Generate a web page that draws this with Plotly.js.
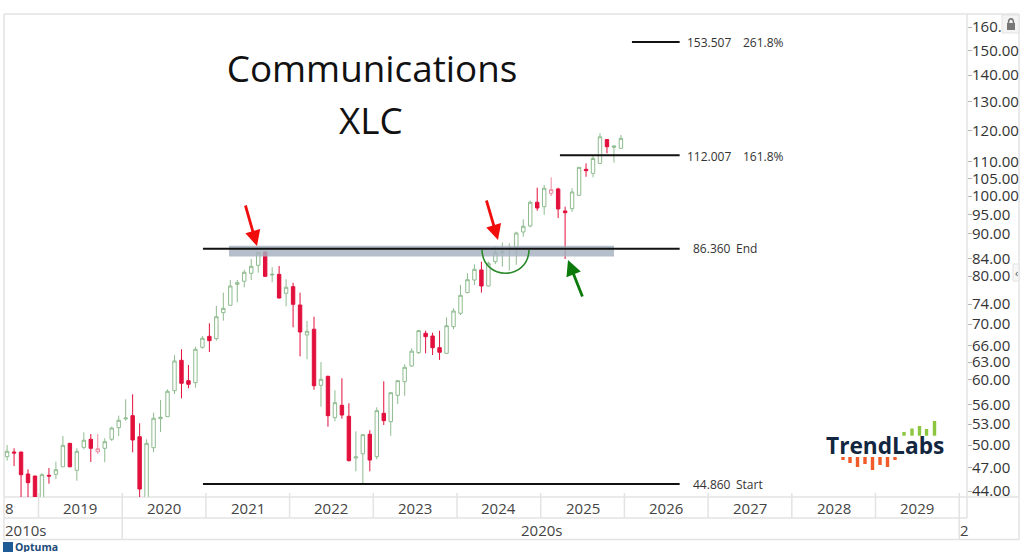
<!DOCTYPE html>
<html><head><meta charset="utf-8">
<script src="https://cdn.plot.ly/plotly-3.0.1.min.js"></script>
<style>html,body{margin:0;padding:0;background:#fff}#c{width:1024px;height:552px}</style>
</head><body><div id="c"></div>
<script>
const months=["2018-08","2018-09","2018-10","2018-11","2018-12",
"2019-01","2019-02","2019-03","2019-04","2019-05","2019-06","2019-07","2019-08","2019-09","2019-10","2019-11","2019-12",
"2020-01","2020-02","2020-03","2020-04","2020-05","2020-06","2020-07","2020-08","2020-09","2020-10","2020-11","2020-12",
"2021-01","2021-02","2021-03","2021-04","2021-05","2021-06","2021-07","2021-08","2021-09","2021-10","2021-11","2021-12",
"2022-01","2022-02","2022-03","2022-04","2022-05","2022-06","2022-07","2022-08","2022-09","2022-10","2022-11","2022-12",
"2023-01","2023-02","2023-03","2023-04","2023-05","2023-06","2023-07","2023-08","2023-09","2023-10","2023-11","2023-12",
"2024-01","2024-02","2024-03","2024-04","2024-05","2024-06","2024-07","2024-08","2024-09","2024-10","2024-11","2024-12",
"2025-01","2025-02","2025-03","2025-04","2025-05","2025-06","2025-07","2025-08","2025-09","2025-10","2025-11","2025-12"];
const open=[48.42,49.05,49.05,46.14,45.88,41.6,45.97,46.10,47.08,50.25,46.62,49.69,50.82,49.09,49.56,50.82,52.49,53.78,54.27,51.18,42.0,49.64,53.82,54.12,58.18,63.31,59.82,59.49,65.64,67.68,67.24,72.28,73.78,78.22,78.88,80.65,82.46,85.58,80.27,80.42,76.29,77.70,73.84,67.93,69.02,59.05,60.55,53.97,55.86,54.18,48.24,48.82,51.53,48.42,54.63,53.37,57.43,59.65,62.31,64.67,68.25,67.74,65.57,64.55,69.52,72.16,76.42,79.16,81.40,77.85,83.30,85.41,86.24,86.60,90.47,91.99,98.27,97.07,100.75,101.98,95.92,96.54,100.2,107.7,106.5,109.5,117.0,114.5,114.2];
const high=[50.01,49.56,49.09,46.74,45.9,46.23,46.91,47.75,51.28,50.29,49.56,51.81,51.57,51.57,50.96,52.63,54.27,56.80,57.60,53.13,50.82,54.72,56.69,58.40,64.20,65.28,62.49,65.75,67.74,70.18,73.69,76.42,79.16,79.16,81.40,83.92,85.65,85.65,82.01,82.30,79.32,78.57,76.42,70.63,71.47,63.01,60.65,58.24,60.22,56.17,51.96,51.57,52.11,55.55,59.72,57.92,59.89,62.61,65.46,68.88,68.75,68.37,68.75,71.35,73.16,78.07,80.65,82.69,83.30,83.30,86.84,87.82,87.66,90.55,93.72,98.71,102.34,103.11,105.34,102.34,97.07,102.17,108.4,109.5,111.77,119.1,117.2,115.1,118.5];
const low=[47.88,47.17,42.9,42.5,40.0,40.9,44.91,45.50,47.08,47.0,45.28,49.42,47.71,48.78,47.67,50.58,51.28,53.52,49.01,40,41,49.01,51.86,54.1,57.64,56.95,58.57,58.67,65.39,64.79,66.87,70.69,73.7,74.40,77.57,79.16,80.80,79.9,78.66,75.2,73.57,69.40,64.02,63.49,58.33,55.64,52.63,53.43,53.82,47.8,46.49,44.86,46.49,48.07,52.88,51.32,56.06,57.37,62.19,64.43,64.55,64.25,63.37,64.5,69.02,71.81,76.29,78.07,76.42,77.8,82.76,82.14,81.27,82.60,89.30,91.66,96.0,94.93,100,94.07,83.92,95.66,100.1,105.5,105.34,109.4,112.6,109.7,114.1];
const close=[49.15,48.92,46.05,45.04,41.7,46.05,45.88,46.69,49.97,47.08,49.15,50.68,49.56,49.50,50.48,52.44,53.58,53.92,50.72,44.25,50.25,53.88,54.03,58.08,63.19,59.39,59.22,65.28,67.31,66.87,71.47,73.16,77.85,78.57,80.88,82.23,85.41,79.97,80.42,75.29,77.57,73.98,68.50,68.64,58.99,60.05,54.27,56.27,54.37,47.88,48.38,51.47,47.97,55.03,53.52,57.85,59.82,62.09,64.94,68.75,67.61,65.57,64.74,69.71,72.62,75.86,79.23,81.55,77.85,82.93,85.41,85.58,86.46,90.22,91.92,98.27,96.72,102.17,101.77,96.46,95.47,101.12,108.3,107.3,111.0,117.9,114.7,114.93,117.4];
const hollowRedMonths=["2019-09","2025-02"];

const fibValues=[153.507,112.007,86.360,44.860];
const fibNotes=["261.8%","161.8%","End","Start"];
const fibStarts=[2026.09,2025.23,2020.965,2020.965];
const fibEnd=2026.66;
const bandRange=[84.5,87.1];
const bandYears=[2021.276,2025.876];

const yTicks=[160,150,140,130,120,110,105,100,95,90,84,80,74,70,66,63,60,56,53,50,47,44];
const yearLabels=[2019,2020,2021,2022,2023,2024,2025,2026,2027,2028,2029];
const yearStarts=[2019,2020,2021,2022,2023,2024,2025,2026,2027,2028,2029,2030];
const decadeStarts=[2020,2030];

const UP='#8fbb8f', DOWN='#e2103c', PINK='#ee8a9e';
const FONT='"Open Sans", sans-serif';
const W=963,H=483,L=4,T=14;
const px=x=>(x-L)/W, py=y=>(T+H-y)/H;
const monthX=m=>{const [y,mo]=m.split('-').map(Number);return y+(mo-0.5)/12;};
const pick=(a,keep)=>a.filter((_,i)=>keep(months[i]));
const isHollow=m=>hollowRedMonths.includes(m);
const isMain=m=>!isHollow(m);

const traces=[
 {type:'candlestick',x:pick(months,isMain).map(monthX),open:pick(open,isMain),high:pick(high,isMain),low:pick(low,isMain),close:pick(close,isMain),
  increasing:{line:{color:UP,width:1},fillcolor:'#ffffff'},decreasing:{line:{color:DOWN,width:1},fillcolor:DOWN},whiskerwidth:0,showlegend:false,hoverinfo:'skip'},
 {type:'candlestick',x:pick(months,isHollow).map(monthX),open:pick(open,isHollow),high:pick(high,isHollow),low:pick(low,isHollow),close:pick(close,isHollow),
  increasing:{line:{color:PINK,width:1},fillcolor:'#ffffff'},decreasing:{line:{color:PINK,width:1},fillcolor:'#ffffff'},whiskerwidth:0,showlegend:false,hoverinfo:'skip'},
 {type:'scatter',mode:'lines',x:[bandYears[0],bandYears[1],bandYears[1],bandYears[0],bandYears[0]],y:[bandRange[0],bandRange[0],bandRange[1],bandRange[1],bandRange[0]],fill:'toself',fillcolor:'rgba(165,177,192,0.82)',line:{width:0},showlegend:false,hoverinfo:'skip'}
];
fibValues.forEach((v,i)=>traces.push({type:'scatter',mode:'lines',x:[fibStarts[i],fibEnd],y:[v,v],line:{color:'#111',width:2},showlegend:false,hoverinfo:'skip'}));

const rule='#e3e3e3';
const shapes=[];
const frame=(x0,y0,x1,y1)=>shapes.push({type:'line',xref:'paper',yref:'paper',x0:px(x0),y0:py(y0),x1:px(x1),y1:py(y1),line:{color:rule,width:1.5},layer:'below'});
frame(4,14,1019,14);frame(4,14,4,540);frame(967,14,967,518);frame(1019,14,1019,540);
frame(4,497,1019,497);frame(4,518,967,518);frame(4,539.5,1019,539.5);
yearStarts.forEach(s=>shapes.push({type:'line',xref:'x',yref:'paper',x0:s,x1:s,y0:py(518),y1:py(493),line:{color:rule,width:1.5}}));
decadeStarts.forEach(s=>shapes.push({type:'line',xref:'x',yref:'paper',x0:s,x1:s,y0:py(540),y1:py(518),line:{color:rule,width:1.5}}));
// green arc
const P=(x,y)=>px(x).toFixed(5)+' '+py(y).toFixed(5);
shapes.push({type:'path',xref:'paper',yref:'paper',path:`M ${P(482,250)} C ${P(483,281)} ${P(528,281)} ${P(529,250)}`,line:{color:'#2c8a2c',width:1.6}});
// lock button and side handle
const box=(x0,y0,x1,y1,fill,lc)=>shapes.push({type:'rect',xref:'paper',yref:'paper',x0:px(x0),x1:px(x1),y0:py(y0),y1:py(y1),fillcolor:fill,line:{color:lc||fill,width:lc?1:0}});
box(1002,15,1019,33,'#f3f3f3','#e3e3e3');
box(1007,23,1015,30,'#777');
shapes.push({type:'path',xref:'paper',yref:'paper',path:`M ${P(1008.5,23)} C ${P(1008.5,17.5)} ${P(1013.5,17.5)} ${P(1013.5,23)}`,line:{color:'#777',width:1.6}});
box(1013,264,1019,281,'#f6f6f6','#e3e3e3');
// logo marks
const gx=[904,912,919.5,926.5,934.5], gt=[432,428.5,426,429,421];
gx.forEach((x,i)=>box(x-1.7,gt[i],x+1.7,435.7,'#8cc63f'));
const ox=[843,850,857.5,865,872.5,880,887.5,895], ob=[460,463,467,464,470,465,467,460];
ox.forEach((x,i)=>box(x-1.7,457,x+1.7,ob[i],'#f15a29'));
// optuma mark
box(3,542,13,552,'#1d5a96');

const tx=(text,x,y,size,color,anchor,extra)=>Object.assign({text,xref:'paper',yref:'paper',x:px(x),y:py(y),showarrow:false,xanchor:anchor||'center',yanchor:'middle',font:{family:FONT,size,color},borderpad:0,borderwidth:0},extra||{});
const fibY=[43,156,249,484];
const anns=[];
fibValues.forEach((v,i)=>{
  anns.push(tx(v.toFixed(3),731,fibY[i],12,'#333','right'));
  anns.push(tx(fibNotes[i],i<2?743:736,fibY[i],12,'#333','left'));
});
anns.push(tx('XLC',371,120,36.8,'#111'));
yearLabels.forEach(y=>anns.push({text:String(y),xref:'x',yref:'paper',x:y+0.5,y:py(508),showarrow:false,yanchor:'middle',font:{family:FONT,size:15,color:'#444'}}));
anns.push(tx('8',5,508,15,'#444','left'));
anns.push(tx('2010s',5,530,15,'#444','left'));
anns.push(tx('2020s',541,530,15,'#444'));
anns.push(tx('2',960,530,15,'#444','left'));
anns.push(tx('TrendLabs',885,445,22.7,'#12263f','center',{font:{family:FONT,size:22.7,color:'#12263f',weight:700}}));
anns.push(tx('Optuma',15,547,10.5,'#1d4a7a','left',{font:{family:FONT,size:10.5,color:'#1d4a7a',weight:700}}));
anns.push(tx('‹',1016,272,11,'#555'));
const arrow=(x,y,tx0,ty0,color)=>({text:'',xref:'paper',yref:'paper',x:px(x),y:py(y),axref:'pixel',ayref:'pixel',ax:tx0-x,ay:ty0-y,showarrow:true,arrowhead:2,arrowsize:1.1,arrowwidth:2.8,arrowcolor:color});
anns.push(arrow(257,246,245,204,'#f20d0d'));
anns.push(arrow(498,240,486,199,'#f20d0d'));
anns.push(arrow(568,260,583,298,'#0b7a0b'));

const layout={
 width:1024,height:552,paper_bgcolor:'#fff',plot_bgcolor:'#fff',showlegend:false,hovermode:false,
 margin:{l:L,r:1024-L-W,t:T,b:552-T-H,pad:0},
 title:{text:'Communications',xref:'paper',yref:'container',x:px(372),xanchor:'center',y:1-69/552,yanchor:'middle',font:{family:FONT,size:36.8,color:'#111'},pad:{t:0,b:0,l:0,r:0}},
 xaxis:{type:'linear',range:[2018.588,2030.093],showgrid:false,zeroline:false,showticklabels:false,ticks:'',showline:false,rangeslider:{visible:false},fixedrange:true},
 yaxis:{type:'log',range:[Math.log10(43.28),Math.log10(165.93)],side:'right',showgrid:false,zeroline:false,showline:false,tickmode:'array',tickvals:yTicks,ticktext:yTicks.map(v=>v.toFixed(2)),ticks:'outside',ticklen:4,tickwidth:1,tickcolor:'#b5b5b5',ticklabelstandoff:-3,tickfont:{family:FONT,size:15,color:'#333'},fixedrange:true},
 shapes,annotations:anns
};
Plotly.newPlot('c',traces,layout,{staticPlot:true,displayModeBar:false});
</script></body></html>
